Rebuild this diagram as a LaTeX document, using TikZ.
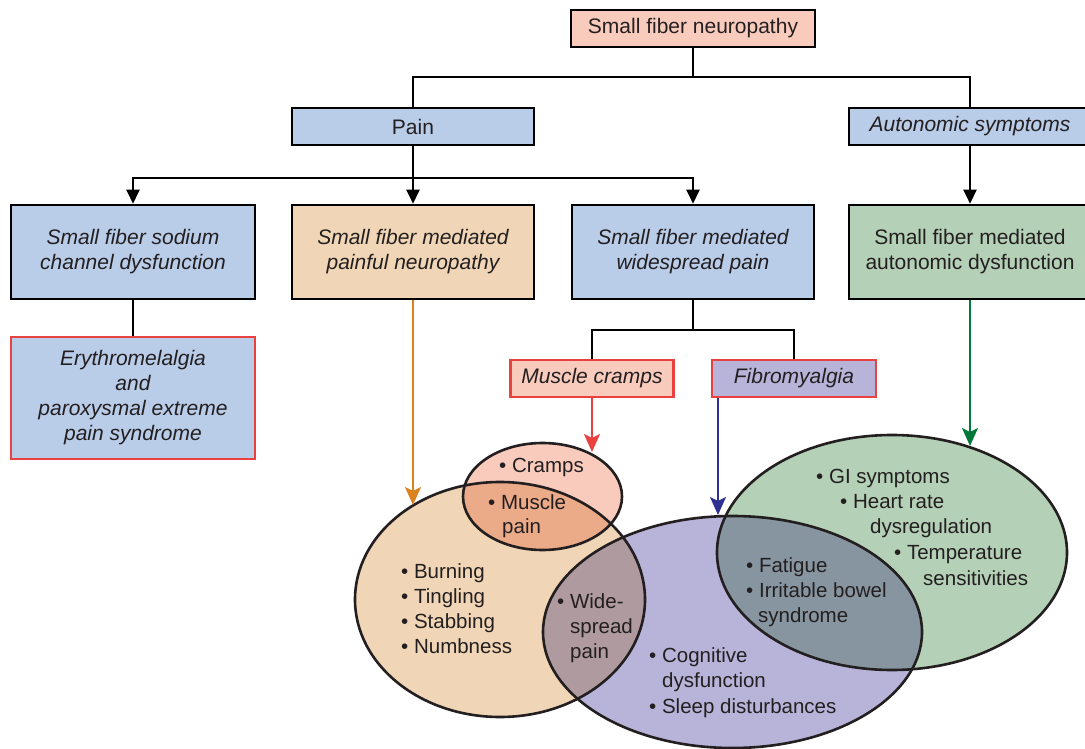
\documentclass[tikz,border=0pt]{standalone}
\usepackage{fontspec}
\setmainfont{Liberation Sans}
\usetikzlibrary{arrows.meta,shapes.geometric}
\definecolor{txt}{HTML}{231F20}
\definecolor{cpink}{HTML}{F9CBBD}
\definecolor{cblue}{HTML}{B9CCE8}
\definecolor{ctan}{HTML}{F0D6B6}
\definecolor{cgreen}{HTML}{B4D0B6}
\definecolor{clav}{HTML}{B8B4D9}
\definecolor{cTC}{HTML}{EBAA88}
\definecolor{cTL}{HTML}{AF9AA0}
\definecolor{cLG}{HTML}{8795A0}
\definecolor{cred}{HTML}{EB4040}
\definecolor{corange}{HTML}{D9821E}
\definecolor{cbluearr}{HTML}{2E3192}
\definecolor{cgreenarr}{HTML}{00793A}
\tikzset{
  boxbase/.style={draw=black, line width=2.6pt, inner sep=0pt, align=center, text=txt,
    minimum width=242pt, minimum height=94pt, font=\fontsize{21}{25}\selectfont},
  tallfirst/.style={execute at begin node={\rule{0pt}{20pt}}},
  ibox/.style={boxbase, font=\fontsize{21}{25}\selectfont\itshape},
  sbox/.style={boxbase, minimum height=37pt},
  conn/.style={line width=2.5pt, draw=black},
  carr/.style={conn, -{Triangle[length=14pt,width=13pt]}},
  colarr/.style={line width=2pt, -{Stealth[length=18pt,width=16pt,inset=4pt]}},
  ell/.style={draw=txt, line width=2.6pt, ellipse, inner sep=0pt},
  lbl/.style={anchor=base west, inner sep=0pt, text=txt, font=\fontsize{20.5}{25}\selectfont}
}
\begin{document}
\begin{tikzpicture}[x=1pt,y=-1pt]
\useasboundingbox (0,0) rectangle (1085,749);

% ---- boxes ----
\node[sbox, fill=cpink, minimum width=244pt] (sfn) at (693,28.5) {Small fiber neuropathy};
\node[sbox, fill=cblue] (pain) at (413,126.5) {Pain};
\node[sbox, fill=cblue, font=\fontsize{21}{25}\selectfont\itshape] (aut) at (970,126.5) {Autonomic symptoms};

\node[ibox, tallfirst, fill=cblue, minimum width=244pt] (b1) at (133,252) {Small fiber sodium\\channel dysfunction};
\node[ibox, tallfirst, fill=ctan] (b2) at (413,252) {Small fiber mediated\\painful neuropathy};
\node[ibox, tallfirst, fill=cblue] (b3) at (693,252) {Small fiber mediated\\widespread pain};
\node[boxbase, tallfirst, fill=cgreen] (b4) at (970,252) {Small fiber mediated\\autonomic dysfunction};

\node[ibox, fill=cblue, draw=cred, minimum width=244pt, minimum height=122pt] (ery) at (133,398)
  {Erythromelalgia\\and\\paroxysmal extreme\\pain syndrome};

\node[ibox, fill=cpink, draw=cred, minimum width=163pt, minimum height=37pt] (mc) at (592,378.5) {Muscle cramps};
\node[ibox, fill=clav, draw=cred, minimum width=164pt, minimum height=37pt] (fib) at (794,378.5) {Fibromyalgia};

% ---- black connectors ----
\coordinate (j0) at (693,77);
\coordinate (j1) at (413,178);
\coordinate (j2) at (693,330);
\draw[conn] (sfn.south) -- (j0);
\draw[conn] (pain.north) |- (j0) -| (aut.north);
\draw[conn] (pain.south) -- (j1);
\draw[carr] (j1) -| (b1.north);
\draw[carr] (j1) -- (b2.north);
\draw[carr] (j1) -| (b3.north);
\draw[carr] (aut.south) -- (b4.north);
\draw[conn] (b1.south) -- (ery.north);
\draw[conn] (b3.south) -- (j2);
\draw[conn] (j2) -| (mc.north);
\draw[conn] (j2) -| (fib.north);

% ---- ellipses: fills ----
\coordinate (cT) at (500,599.5);
\coordinate (cC) at (542.5,496.5);
\coordinate (cL) at (732.5,632);
\coordinate (cG) at (892,552.5);
\fill[ctan] (cT) ellipse [x radius=145pt, y radius=117.5pt];
\fill[cpink] (cC) ellipse [x radius=79.5pt, y radius=53.5pt];
\fill[clav] (cL) ellipse [x radius=189.5pt, y radius=116pt];
\fill[cgreen] (cG) ellipse [x radius=175pt, y radius=117.5pt];
\begin{scope}
  \clip (cT) ellipse [x radius=145pt, y radius=117.5pt];
  \fill[cTC] (cC) ellipse [x radius=79.5pt, y radius=53.5pt];
  \fill[cTL] (cL) ellipse [x radius=189.5pt, y radius=116pt];
\end{scope}
\begin{scope}
  \clip (cL) ellipse [x radius=189.5pt, y radius=116pt];
  \fill[cLG] (cG) ellipse [x radius=175pt, y radius=117.5pt];
\end{scope}
% ---- ellipses: outlines ----
\node[ell, minimum width=290pt, minimum height=235pt] (eT) at (cT) {};
\node[ell, minimum width=159pt, minimum height=107pt] (eC) at (cC) {};
\node[ell, minimum width=379pt, minimum height=232pt] (eL) at (cL) {};
\node[ell, minimum width=350pt, minimum height=235pt] (eG) at (cG) {};

% ---- coloured arrows ----
\coordinate (tT) at (413,505);
\coordinate (tC) at (592,452);
\coordinate (tL) at (718,515);
\coordinate (tG) at (970,446);
\draw[colarr, draw=corange, fill=corange] (b2.south) -- (tT);
\draw[colarr, draw=cred, fill=cred] (mc.south) -- (tC);
\draw[colarr, draw=cbluearr, fill=cbluearr] (fib.south -| tL) -- (tL);
\draw[colarr, draw=cgreenarr, fill=cgreenarr] (b4.south) -- (tG);

% ---- ellipse texts ----
\node[lbl] (t1) at (499,472) {• Cramps};
\node[lbl] (t2) at (488,509) {• Muscle};
\node[lbl] (t3) at (502,533) {pain};

\node[lbl] (t4) at (401,578) {• Burning};
\node[lbl] (t5) at (401,603) {• Tingling};
\node[lbl] (t6) at (401,628) {• Stabbing};
\node[lbl] (t7) at (401,653) {• Numbness};

\node[lbl] (t8) at (557,608) {• Wide-};
\node[lbl] (t9) at (570,633) {spread};
\node[lbl] (t10) at (570,658) {pain};

\node[lbl] (t11) at (649,662) {• Cognitive};
\node[lbl] (t12) at (662,687) {dysfunction};
\node[lbl] (t13) at (649,713) {• Sleep disturbances};

\node[lbl] (t14) at (816,483) {• GI symptoms};
\node[lbl] (t15) at (840,508) {• Heart rate};
\node[lbl] (t16) at (870,533) {dysregulation};
\node[lbl] (t17) at (894,559) {• Temperature};
\node[lbl] (t18) at (923,585) {sensitivities};

\node[lbl] (t19) at (746,572) {• Fatigue};
\node[lbl] (t20) at (746,597) {• Irritable bowel};
\node[lbl] (t21) at (758,622) {syndrome};
\end{tikzpicture}
\end{document}
